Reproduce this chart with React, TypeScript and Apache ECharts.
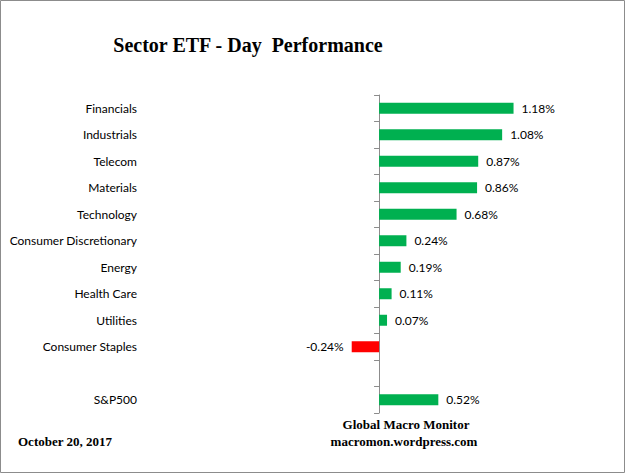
import React, { useEffect, useRef } from "react";
import * as echarts from "echarts";

const categories = [
  "Financials",
  "Industrials",
  "Telecom",
  "Materials",
  "Technology",
  "Consumer Discretionary",
  "Energy",
  "Health Care",
  "Utilities",
  "Consumer Staples",
  "",
  "S&P500",
];
const values: (number | null)[] = [1.18, 1.08, 0.87, 0.86, 0.68, 0.24, 0.19, 0.11, 0.07, -0.24, null, 0.52];
const title = "Sector ETF - Day  Performance";
const dateText = "October 20, 2017";
const sourceLines = ["Global Macro Monitor", "macromon.wordpress.com"];

export default function App() {
  const ref = useRef<HTMLDivElement>(null);
  useEffect(() => {
    if (!ref.current) return;
    const chart = echarts.init(ref.current, undefined, { renderer: "svg" });
    const labelFont = "Lato, 'Noto Sans', sans-serif";
    const serif = "'Liberation Serif', 'Times New Roman', serif";
    chart.setOption({
      animation: false,
      backgroundColor: "#ffffff",
      grid: { left: 142, right: 18, top: 95, bottom: 60, containLabel: false, outerBoundsMode: "none" },
      xAxis: {
        type: "value",
        min: -2.08,
        max: 2,
        show: false,
      },
      yAxis: {
        type: "category",
        data: categories,
        inverse: true,
        axisLine: { show: true, onZero: true, lineStyle: { color: "#8c8c8c", width: 1 } },
        axisTick: { show: true, length: 5, lineStyle: { color: "#8c8c8c" } },
        axisLabel: {
          margin: 5,
          color: "#000",
          fontSize: 12,
          fontFamily: labelFont,
        },
        splitLine: { show: false },
      },
      series: [
        {
          type: "bar",
          barWidth: 11,
          data: values.map((v) =>
            v === null
              ? null
              : {
                  value: v,
                  itemStyle: { color: v < 0 ? "#ff0000" : "#00b050" },
                  label: {
                    show: true,
                    position: v < 0 ? "left" : "right",
                    distance: 8,
                    formatter: () => v.toFixed(2) + "%",
                    color: "#000",
                    fontSize: 12,
                    fontFamily: labelFont,
                  },
                }
          ),
        },
      ],
      graphic: [
        {
          type: "rect",
          shape: { x: 0.5, y: 0.5, width: 624, height: 472 },
          style: { fill: "none", stroke: "#8c8c8c", lineWidth: 1 },
          silent: true,
        },
        {
          type: "text",
          x: 248,
          y: 45,
          style: {
            text: title,
            fontFamily: serif,
            fontWeight: "bold",
            fontSize: 20,
            fill: "#000",
            align: "center",
            verticalAlign: "middle",
          },
        },
        {
          type: "text",
          x: 406,
          y: 424,
          style: {
            text: sourceLines[0],
            fontFamily: serif,
            fontWeight: "bold",
            fontSize: 13,
            fill: "#000",
            align: "center",
            verticalAlign: "middle",
          },
        },
        {
          type: "text",
          x: 404,
          y: 441,
          style: {
            text: sourceLines[1],
            fontFamily: serif,
            fontWeight: "bold",
            fontSize: 13,
            fill: "#000",
            align: "center",
            verticalAlign: "middle",
          },
        },
        {
          type: "text",
          x: 18,
          y: 441,
          style: {
            text: dateText,
            fontFamily: serif,
            fontWeight: "bold",
            fontSize: 13,
            fill: "#000",
            align: "left",
            verticalAlign: "middle",
          },
        },
      ],
    });
    return () => chart.dispose();
  }, []);
  return (
    <div
      ref={ref}
      style={{ position: "absolute", left: 0, top: 0, width: 625, height: 473 }}
    />
  );
}
